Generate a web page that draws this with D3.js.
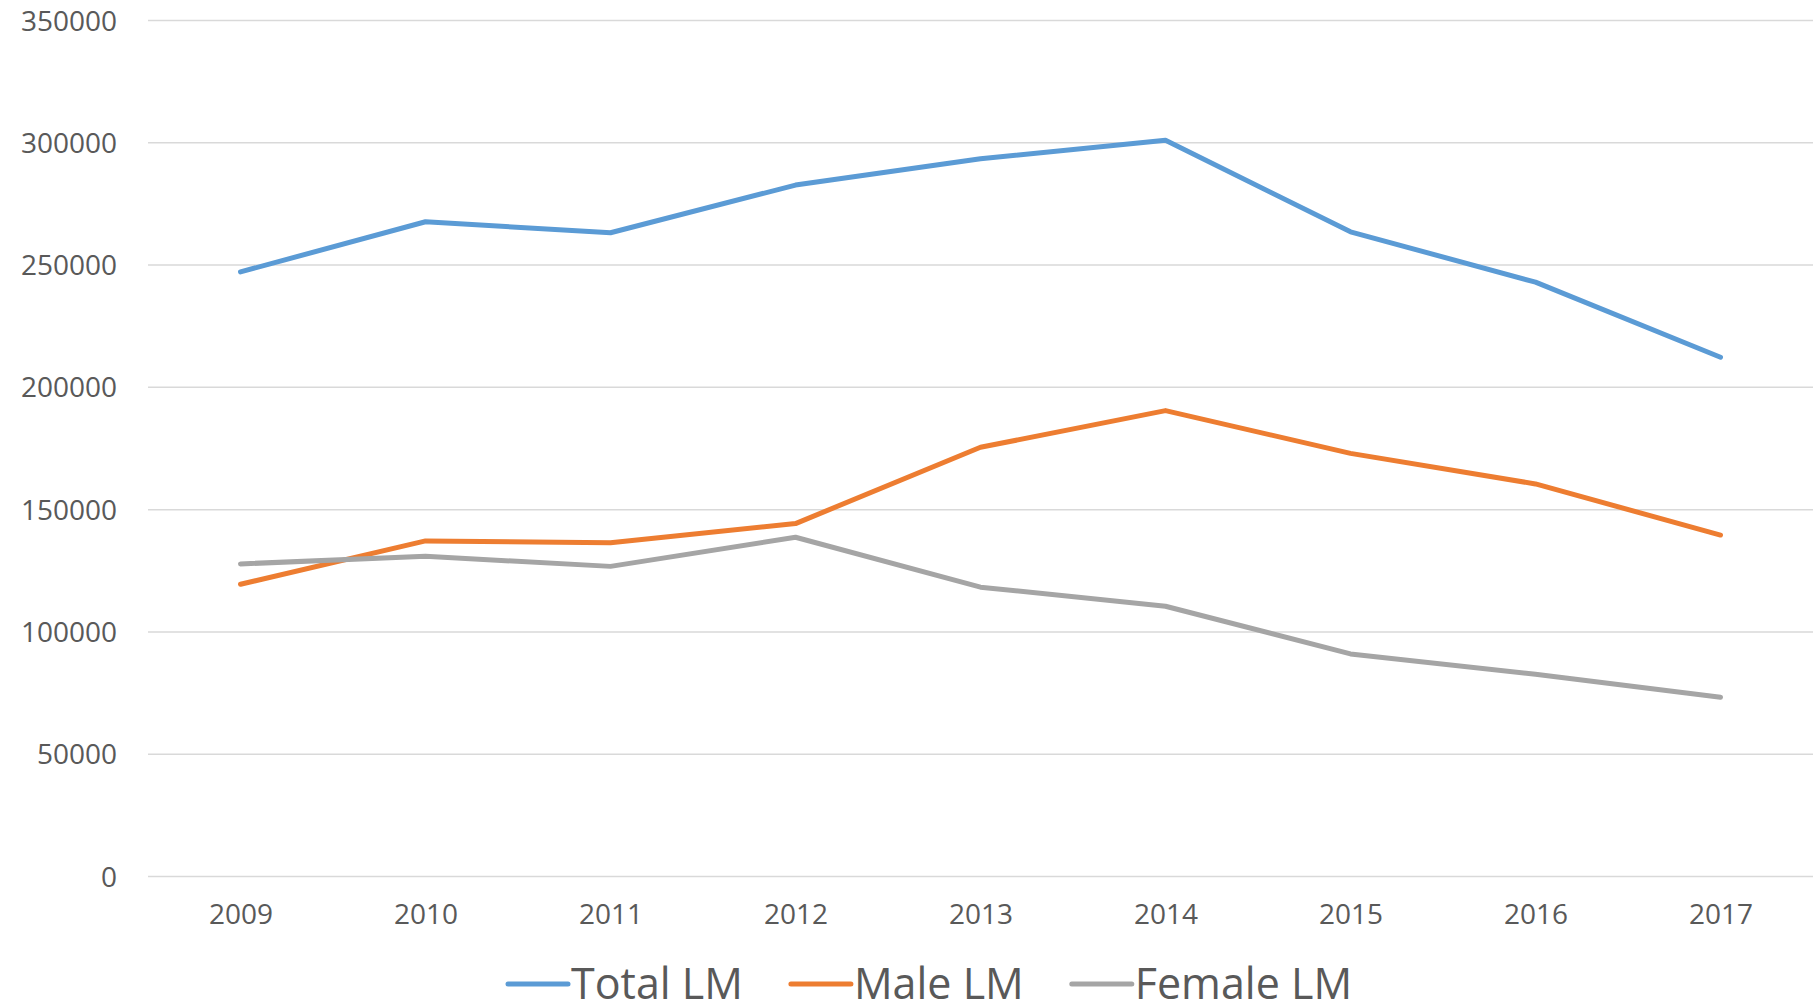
<!DOCTYPE html>
<html>
<head>
<meta charset="utf-8">
<script src="https://cdn.jsdelivr.net/npm/d3@7"></script>
<style>
  body { margin: 0; background: #fff; }
  text { font-family: "Open Sans", sans-serif; fill: #595959; }
</style>
</head>
<body>
<div id="chart"></div>
<script>
var YEARS = ['2009', '2010', '2011', '2012', '2013', '2014', '2015', '2016', '2017'];
var TOTAL_LM = [247000, 267500, 263000, 282500, 293300, 300800, 263400, 242800, 212100];
var MALE_LM = [119300, 137000, 136300, 144100, 175300, 190300, 172800, 160300, 139400];
var FEMALE_LM = [127600, 130700, 126600, 138500, 118100, 110300, 90800, 82500, 73100];
var Y_TICKS = [0, 50000, 100000, 150000, 200000, 250000, 300000, 350000];
var SERIES_NAMES = ['Total LM', 'Male LM', 'Female LM'];

var COLORS = {
    'Total LM':  '#5b9bd5',
    'Male LM':   '#ed7d31',
    'Female LM': '#a5a5a5'
};

var WIDTH = 1813;
var HEIGHT = 1001;
var margin = { top: 20, left: 148, right: 0, bottom: 125 };

var series = [
    { name: 'Total LM', values: TOTAL_LM },
    { name: 'Male LM', values: MALE_LM },
    { name: 'Female LM', values: FEMALE_LM }
];

var sx = d3.scalePoint()
    .domain(YEARS)
    .range([margin.left, WIDTH - margin.right])
    .padding(0.5);
var sy = d3.scaleLinear()
    .domain([0, 350000])
    .range([HEIGHT - margin.bottom, margin.top]);

var svg = d3.select('#chart').append('svg')
    .attr('width', WIDTH)
    .attr('height', HEIGHT);

// gridlines + y labels
var ay = d3.axisLeft(sy)
    .tickValues(Y_TICKS)
    .tickSize(-(WIDTH - margin.left - margin.right))
    .tickPadding(31)
    .tickFormat(d3.format('d'));
var gy = svg.append('g')
    .attr('transform', 'translate(' + margin.left + ',0)')
    .call(ay);
gy.select('.domain').remove();
gy.selectAll('.tick line')
    .attr('stroke', '#d9d9d9')
    .attr('stroke-width', 1.5);
gy.selectAll('.tick text')
    .attr('font-size', 28)
    .attr('dy', '0.36em')
    .style('fill', '#595959');

// x labels
var ax = d3.axisBottom(sx).tickSize(0).tickPadding(0);
var gx = svg.append('g')
    .attr('transform', 'translate(0,' + (HEIGHT - margin.bottom) + ')')
    .call(ax);
gx.select('.domain').remove();
gx.selectAll('.tick text')
    .attr('font-size', 28)
    .attr('y', 48)
    .attr('dy', 0)
    .style('fill', '#595959');

var line = d3.line()
    .x(function(d, i) { return sx(YEARS[i]); })
    .y(function(d) { return sy(d); });

svg.selectAll('.series').data(series).enter()
    .append('path')
    .attr('class', 'series')
    .attr('d', function(d) { return line(d.values); })
    .attr('fill', 'none')
    .attr('stroke', function(d) { return COLORS[d.name]; })
    .attr('stroke-width', 5)
    .attr('stroke-linejoin', 'round')
    .attr('stroke-linecap', 'round');

// legend (cut at the bottom edge, as in the original)
var LEG_Y = 984;
var legend = svg.append('g');
var x = 0;
SERIES_NAMES.forEach(function(name) {
    var item = legend.append('g').attr('transform', 'translate(' + x + ',0)');
    item.append('line')
        .attr('x1', 2).attr('x2', 62)
        .attr('y1', LEG_Y).attr('y2', LEG_Y)
        .attr('stroke', COLORS[name])
        .attr('stroke-width', 5)
        .attr('stroke-linecap', 'round');
    var t = item.append('text')
        .attr('x', 65)
        .attr('y', 999)
        .attr('font-size', 43)
        .text(name);
    x += 65 + t.node().getComputedTextLength() + 46;
});
legend.attr('transform', 'translate(' + (506) + ',0)');
</script>
</body>
</html>
